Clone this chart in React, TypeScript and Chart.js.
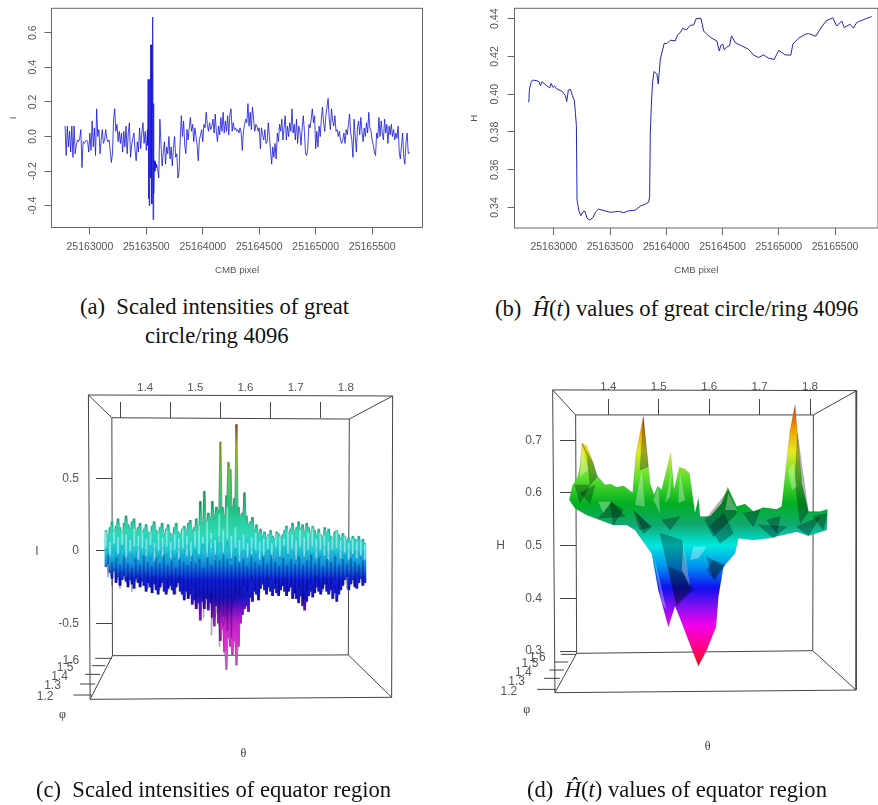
import React, { useEffect, useRef } from "react";
import { Chart, registerables } from "chart.js";

Chart.register(...registerables);

// ---------- panel (a): scaled intensities, ring 4096 ----------
const ringStart = 25162780;
const intensityBefore = [
  .06,-.11,.06,-.06,.03,-.09,.06,-.12,.06,-.10,
  -.05,-.02,-.03,-.01,.04,-.18,-.03,-.04,-.03,-.02,
  -.03,-.09,.02,-.08,.09,-.06,.05,-.11,.16,.0,
  .04,-.1,-.02,.04,-.04,-.02,.04,-.01,-.03,-.02,
  -.08,-.15,-.1,.1,.16,.03,.07,-.03,.03,-.04,
  .02,-.09,.03,-.06,.06,-.1,.02,.08,-.12,-.05,
  -.01,.02,-.08,-.14,-.03,-.09,.05,-.07,.02,.08,
  -.04,.03,-.08,.04,
];
const spikePixels = [25163512,25163516,25163519,25163523,25163526,25163530,25163534,25163537,25163541,25163545,25163549,25163553,25163556,25163560,25163563,25163567,25163571,25163576,25163581,25163586];
const spikeValues = [-.05,.33,-.36,.33,-.40,.33,-.22,.53,-.24,.53,-.39,.19,.69,-.48,.19,-.33,-.14,-.2,-.15,-.18];
const afterStart = 25163590;
const intensityAfter = [
  -.16,-.19,-.24,.1,-.05,-.17,-.09,-.03,-.16,-.06,
  -.1,.0,-.13,-.06,-.17,-.07,.0,-.12,-.1,-.24,
  -.2,-.02,.12,.0,.09,-.05,-.1,.04,-.02,.05,
  .11,.03,.07,-.03,.05,.0,-.05,-.14,-.02,.01,
  .04,-.03,.07,.05,.14,.07,.03,.08,.04,.06,
  .1,.02,.13,.03,-.03,.06,.01,.11,.03,.14,
  .02,.09,.03,.12,.01,.13,.16,.03,.08,.04,
  .05,.03,.04,.02,.05,.02,-.08,.03,.07,.1,
  .08,.19,.06,.14,.04,.17,.1,.03,.07,.06,
  .03,.05,-.07,.05,.01,-.02,.04,-.04,-.03,.08,
  .0,-.08,-.16,-.06,-.12,-.04,-.13,.02,-.03,.07,
  .03,.1,-.02,.05,.12,-.02,.06,.0,.08,.03,
  .16,.02,.07,-.02,.1,-.04,.06,.03,-.05,.05,
  .12,.03,-.1,-.11,-.07,.07,.05,.1,.16,.08,
  .12,-.07,.03,-.06,.06,.0,.1,.17,.08,.03,
  .12,.17,.22,.1,.04,.16,.09,.06,.12,.03,
  .04,.0,.03,-.02,-.04,-.02,.02,-.04,.04,.01,
  .07,.13,.02,-.02,-.12,.1,.0,-.09,.05,.09,
  .01,.11,.03,-.03,.05,.0,.08,.02,.14,.05,
  .03,-.02,-.05,-.09,-.11,.02,-.01,.11,.0,.09,
  .02,-.02,.1,.02,.07,-.04,.06,.01,.07,.0,
  .04,-.02,.02,-.01,.06,-.09,-.13,-.05,.02,-.12,
  -.16,-.03,.02,-.1,-.09,
];
const pixelTicks = [25163000,25163500,25164000,25164500,25165000,25165500];
const intensityTicks = [-.4,-.2,0,.2,.4,.6];

// ---------- panel (b): H(t), ring 4096 ----------
const hatBase = 25160000;
const hatPixels = [2778,2784,2799,2813,2852,2870,2882,2896,2926,2964,2976,2994,3006,3030,3074,3104,3115,3130,3148,3166,3183,3192,3201,3207,3222,3240,3260,3278,3296,3320,3349,3373,3397,3429,3503,3577,3621,3666,3725,3769,3814,3843,3852,3858,3870,3879,3891,3917,3929,3947,3982,4006,4036,4080,4101,4124,4145,4178,4213,4243,4266,4308,4332,4361,4406,4450,4471,4486,4503,4515,4539,4562,4580,4613,4672,4731,4775,4820,4864,4909,4959,4983,5000,5057,5107,5125,5175,5234,5264,5329,5367,5420,5480,5515,5560,5581,5634,5664,5687,5710,5738,5782,5826];
const hatValues = [.3957,.4027,.4063,.4075,.4071,.4066,.4045,.4066,.405,.4033,.4057,.4036,.4043,.4027,.4015,.3992,.3961,.4022,.4026,.3992,.3966,.3904,.3834,.3439,.3386,.3356,.3377,.3379,.3342,.3333,.3347,.3377,.3391,.3386,.3374,.3379,.3372,.3382,.3386,.3407,.3418,.3428,.3456,.379,.398,.4066,.412,.4107,.4054,.4186,.427,.4268,.4286,.4282,.4314,.4326,.4349,.434,.4365,.4367,.44,.4402,.4335,.4317,.4296,.4282,.4229,.4259,.4265,.4235,.4251,.4256,.4309,.4273,.4256,.4238,.4208,.4194,.4208,.4191,.4184,.4212,.4233,.4208,.4207,.4265,.4296,.4317,.4321,.4307,.4344,.4388,.4405,.4361,.4388,.4353,.437,.435,.4375,.4385,.4391,.4402,.4411];
const hatTicks = [.34,.36,.38,.40,.42,.44];

// ---------- panel (c): scaled intensities, equator surface ----------
const ribbonUpper = [
  .14,.1,.16,.2,.13,.17,.22,.16,.12,.19,
  .24,.18,.15,.2,.22,.13,.16,.19,.12,.15,
  .18,.13,.11,.17,.2,.14,.12,.16,.19,.11,
  .15,.18,.12,.1,.16,.19,.13,.11,.15,.17,
  .13,.19,.21,.14,.16,.22,.14,.34,.19,.41,
  .2,.26,.22,.34,.24,.3,.28,.75,.3,.24,
  .38,.61,.56,.3,.36,.87,.3,.24,.26,.4,
  .24,.18,.2,.23,.14,.18,.12,.15,.1,.13,
  .09,.11,.14,.1,.08,.13,.12,.09,.11,.14,
  .17,.12,.15,.19,.13,.16,.2,.15,.18,.13,
  .19,.16,.12,.17,.14,.1,.15,.11,.09,.16,
  .12,.15,.1,.08,.13,.14,.11,.08,.12,.1,
  .07,.09,.06,.1,.08,.07,.1,.06,.08,.05,
];
const ribbonLower = [
  -.11,-.09,-.15,-.19,-.14,-.22,-.18,-.24,-.2,-.17,
  -.21,-.25,-.2,-.23,-.26,-.19,-.22,-.25,-.21,-.24,
  -.28,-.22,-.25,-.29,-.23,-.27,-.3,-.25,-.22,-.28,
  -.3,-.26,-.24,-.27,-.3,-.25,-.22,-.28,-.3,-.34,
  -.28,-.33,-.3,-.37,-.34,-.4,-.36,-.48,-.35,-.4,
  -.33,-.41,-.36,-.46,-.52,-.38,-.5,-.62,-.54,-.7,
  -.82,-.6,-.66,-.72,-.62,-.79,-.66,-.5,-.44,-.4,
  -.38,-.42,-.32,-.35,-.28,-.3,-.34,-.26,-.23,-.27,
  -.3,-.25,-.28,-.31,-.26,-.29,-.31,-.27,-.24,-.28,
  -.31,-.28,-.25,-.33,-.29,-.33,-.36,-.31,-.38,-.41,
  -.35,-.31,-.28,-.32,-.29,-.25,-.28,-.3,-.26,-.23,
  -.28,-.3,-.27,-.33,-.29,-.35,-.3,-.27,-.24,-.2,
  -.18,-.27,-.23,-.2,-.25,-.26,-.22,-.19,-.24,-.22,
];
const lightHigh = [.13,.06,.16,.09,.19,.11,.07,.15,.1,.17,.08,.13,.05,.12,.09,.14,.06,.11,.08,.15,.1,.06,.13,.17,.09,.2,.12,.07,.25,.14,.3,.1,.16,.07,.11,.05,.09,.12,.06,.08,.1,.05,.12,.15,.08,.16,.11,.07,.14,.09,.12,.17,.08,.13,.1,.06,.11,.14,.07,.1,.05,.08,.06,.07,.04];
const lightLow = [.02,-.04,.05,-.02,.04,-.05,-.01,.03,-.06,.02,-.03,.04,-.07,.0,-.04,.03,-.05,.01,-.06,.02,-.03,-.07,.03,-.02,.05,-.04,.02,-.06,.06,-.03,.08,-.05,.02,-.07,.0,-.05,-.02,.01,-.06,-.03,.01,-.05,.02,-.04,.03,-.02,.01,-.06,.02,-.04,.0,.03,-.05,.01,-.03,-.06,.0,.02,-.05,-.01,-.06,-.02,-.05,-.03,-.06];
const darkHigh = [-.03,-.08,-.05,-.1,-.04,-.09,-.12,-.06,-.1,-.04,-.08,-.11,-.05,-.09,-.03,-.1,-.07,-.12,-.05,-.08,-.1,-.04,-.09,-.06,-.12,-.05,-.1,-.03,-.07,-.02,-.06,-.1,-.04,-.09,-.06,-.11,-.04,-.08,-.1,-.05,-.09,-.03,-.08,-.11,-.05,-.1,-.06,-.09,-.04,-.1,-.07,-.03,-.09,-.05,-.11,-.06,-.08,-.04,-.1,-.06,-.09,-.05,-.08,-.1,-.07];
const darkLow = [-.18,-.24,-.2,-.26,-.19,-.25,-.28,-.21,-.24,-.18,-.26,-.29,-.22,-.27,-.2,-.28,-.23,-.3,-.24,-.27,-.33,-.25,-.4,-.3,-.46,-.34,-.58,-.38,-.66,-.45,-.55,-.6,-.34,-.3,-.24,-.28,-.21,-.27,-.29,-.22,-.28,-.2,-.26,-.3,-.24,-.29,-.25,-.33,-.26,-.36,-.28,-.22,-.29,-.24,-.28,-.23,-.26,-.2,-.27,-.22,-.26,-.19,-.24,-.2,-.21];
const meshDarkHigh = [.03,-.05,.02,-.07,.04,-.06,.0,-.08,.03,-.05,.01,-.07,.02,-.06,.03,-.04,.0,-.07,.02,-.05,.04,-.06,.01,-.08,.05,-.04,.08,-.05,.1,-.03,.06,-.07,.02,-.05,.01,-.06,.02,-.04,.0,-.06,.01,-.05,.03,-.06,.04,-.04,.02,-.07,.03,-.05,.01,-.06,.02,-.05,.03,-.04,.01,-.06,.0,-.05,.01,-.04,.0,-.06,.0];
const meshDarkLow = [-.1,-.17,-.12,-.2,-.14,-.22,-.15,-.21,-.16,-.24,-.15,-.22,-.17,-.25,-.18,-.23,-.16,-.26,-.17,-.22,-.2,-.28,-.22,-.33,-.26,-.4,-.3,-.46,-.34,-.52,-.36,-.42,-.24,-.33,-.2,-.26,-.17,-.25,-.18,-.24,-.17,-.26,-.19,-.25,-.18,-.27,-.2,-.3,-.22,-.34,-.2,-.26,-.17,-.25,-.18,-.24,-.19,-.28,-.2,-.23,-.16,-.22,-.15,-.2,-.17];
const thetaTicks = [1.4,1.5,1.6,1.7,1.8];
const surfaceTicksC = [-.5,0,.5];
const frameC = [
  [1.287,1.074],[1.8934,1.067],[1.8914,-1.011],[1.2904,-1.025],[1.287,1.074],[null,null],
  [1.3337,.917],[1.807,.908],[1.805,-.719],[1.3349,-.724],[1.3337,.917],[null,null],
  [1.287,1.074],[1.3337,.917],[null,null],[1.8934,1.067],[1.807,.908],[null,null],
  [1.8914,-1.011],[1.805,-.719],[null,null],[1.2904,-1.025],[1.3349,-.724],[null,null],
  [1.3004,-.7425],[1.3336,-.7425],[null,null],[1.2938,-.793],[1.3203,-.793],[null,null],
  [1.2805,-.853],[1.3104,-.853],[null,null],[1.2705,-.9195],[1.3004,-.9195],[null,null],
  [1.2572,-.9954],[1.2938,-.9954],
];
const labelsC: [string, number, number][] = [
  ["1.6",1.2519,-.7586],["1.5",1.2406,-.8069],["1.4",1.2293,-.869],["1.3",1.2154,-.9333],["1.2",1.2008,-1.0069],["I",1.1842,-.007],
];
const serifLabelsC: [string, number, number][] = [["φ",1.2353,-1.1287],["θ",1.5959,-1.4023]];

// ---------- panel (d): H(t), equator surface ----------
const silhouetteD = [
  [1.3226,.5867],[1.3292,.6152],[1.3385,.6278],[1.3438,.65],[1.3478,.6943],[1.357,.6892],[1.3669,.6658],[1.3769,.6342],[1.3934,.6152],[1.4046,.6171],[1.4165,.6108],[1.4298,.6139],[1.4483,.6006],[1.4549,.6753],[1.4694,.7449],[1.476,.6816],[1.4827,.6184],[1.4906,.5962],[1.4979,.6133],[1.5058,.6057],[1.5237,.6753],[1.5303,.6057],[1.5409,.6487],[1.5521,.6449],[1.5607,.6373],[1.5673,.593],[1.572,.5614],[1.5786,.5899],[1.5819,.5551],[1.6017,.5551],[1.6249,.5804],[1.6368,.6108],[1.6546,.5741],[1.6712,.5791],[1.6877,.5646],[1.7075,.5722],[1.734,.569],[1.7439,.5741],[1.7525,.65],[1.7604,.7196],[1.7704,.7671],[1.775,.7133],[1.7836,.6184],[1.7968,.5646],[1.82,.5646],[1.8345,.569],
  [1.8332,.5297],[1.7968,.519],[1.7737,.5266],[1.7175,.5139],[1.6877,.5108],[1.6579,.5139],[1.6513,.4854],[1.6282,.4601],[1.6183,.4032],[1.6136,.3462],[1.5951,.3019],[1.5786,.2715],[1.5422,.362],[1.5323,.3854],[1.519,.3462],[1.4992,.4158],[1.486,.4854],[1.4694,.5076],[1.4529,.5297],[1.4364,.5392],[1.4099,.5392],[1.357,.5582],[1.3339,.5709],[1.3226,.5867],
];
const shadeFacets = [
  [[1.3478,.6943],[1.3702,.6563],[1.3782,.631],[1.3636,.6152],[1.3583,.669]],
  [[1.3339,.6152],[1.3636,.6152],[1.3438,.5804]],
  [[1.3802,.5519],[1.4066,.5835],[1.4331,.5551]],
  [[1.4694,.7449],[1.4793,.65],[1.4628,.6437]],
  [[1.5025,.5234],[1.5356,.3842],[1.562,.4158],[1.5455,.5108]],
  [[1.5951,.4538],[1.6116,.4348],[1.6315,.4633],[1.6083,.4728]],
  [[1.5918,.5487],[1.6381,.6057],[1.6546,.5614],[1.6083,.5171]],
  [[1.6976,.5392],[1.7274,.5139],[1.7538,.5361]],
  [[1.7737,.5361],[1.7968,.519],[1.82,.5551]],
  [[1.775,.7133],[1.7968,.5646],[1.7803,.5424],[1.7704,.6247]],
  [[1.4496,.5677],[1.4827,.5361],[1.4628,.5297]],
  [[1.3438,.5994],[1.3735,.6152],[1.3636,.5804]],
  [[1.4033,.5835],[1.4298,.5677],[1.4099,.5392]],
  [[1.4562,.5614],[1.486,.5361],[1.4694,.5234]],
  [[1.5058,.5487],[1.5422,.5551],[1.5224,.5297]],
  [[1.6017,.5361],[1.6282,.5614],[1.648,.5234],[1.6216,.5044]],
  [[1.6679,.5614],[1.7009,.5677],[1.6877,.5361]],
  [[1.7142,.5487],[1.7406,.5551],[1.734,.5234]],
  [[1.8067,.5551],[1.8332,.5614],[1.8266,.5297]],
  [[1.519,.4601],[1.5488,.4475],[1.5687,.4158],[1.5356,.3905]],
  [[1.5951,.4791],[1.6282,.4601],[1.6083,.438]],
];
const lightFacets = [
  [[1.3478,.6848],[1.3604,.6437],[1.3438,.631]],
  [[1.4661,.6437],[1.4727,.5741],[1.4529,.5772]],
  [[1.5257,.6437],[1.5224,.593],[1.5124,.5804]],
  [[1.5422,.6373],[1.5389,.5804],[1.5521,.5867]],
  [[1.5687,.4981],[1.5951,.4981],[1.5786,.476],[1.5621,.4728]],
  [[1.5488,.5044],[1.562,.4222],[1.5455,.4538]],
  [[1.4893,.4854],[1.5157,.3778],[1.5058,.3905]],
  [[1.7671,.6563],[1.7737,.612],[1.7638,.6057],[1.7571,.6437]],
  [[1.3802,.5835],[1.4066,.5835],[1.3901,.5614]],
  [[1.4893,.5867],[1.4992,.612],[1.5025,.5614]],
  [[1.6381,.5994],[1.6546,.5677],[1.6315,.5677]],
];
const surfaceTicksD = [.3,.4,.5,.6,.7];
const frameD = [
  [1.2896,.7956],[1.8927,.7943],[1.8914,.2259],[1.2942,.2209],[1.2896,.7956],[null,null],
  [1.3352,.7481],[1.8067,.7481],[1.8054,.3006],[1.3372,.2956],[1.3352,.7481],[null,null],
  [1.2896,.7956],[1.3352,.7481],[null,null],[1.8927,.7943],[1.8067,.7481],[null,null],
  [1.8914,.2259],[1.8054,.3006],[null,null],[1.2942,.2209],[1.3372,.2956],[null,null],
  [1.3061,.2937],[1.3358,.2937],[null,null],[1.2922,.2791],[1.3206,.2791],[null,null],
  [1.2829,.2639],[1.312,.2639],[null,null],[1.2724,.2481],[1.3041,.2481],[null,null],
  [1.2591,.2272],[1.2962,.2272],
];
const labelsD: [string, number, number][] = [
  ["1.6",1.2591,.288],["1.5",1.2446,.2753],["1.4",1.2313,.2589],["1.3",1.2181,.2418],["1.2",1.2029,.2228],["H",1.1864,.5],
];
const serifLabelsD: [string, number, number][] = [["φ",1.238,.188],["θ",1.5971,.1184]];

const ribbonStops: [number, string][] = [[.9,"#d0402a"],[.72,"#c8c82a"],[.55,"#6fd04a"],[.3,"#20c080"],[.12,"#30d8b8"],[0,"#20c8d8"],[-.1,"#1088e0"],[-.2,"#1020e0"],[-.32,"#1515c0"],[-.4,"#6a10c0"],[-.5,"#c020c8"],[-.65,"#e030d0"],[-.85,"#f0a0d8"]];
const heightStops: [number, string][] = [[.77,"#e02010"],[.72,"#f0a000"],[.68,"#e8e820"],[.63,"#60e030"],[.58,"#00b020"],[.54,"#10a870"],[.5,"#00e8e0"],[.46,"#0090f0"],[.42,"#1010f0"],[.385,"#8010f0"],[.35,"#f000f0"],[.31,"#ff0090"],[.27,"#f01010"]];

const SANS = "'Liberation Sans', Arial, sans-serif";
const INK = "#555";

const toPoints = (rows: (number | null)[][]) => rows.map(([x, y]) => ({ x, y }));
const gridOf = (n: number, a = 1.322, b = 1.838) => Array.from({ length: n }, (_, i) => a + (i * (b - a)) / (n - 1));

function heightGradient(chart: any, stops: [number, string][]) {
  const y = chart.scales.y;
  const hi = stops[0][0];
  const lo = stops[stops.length - 1][0];
  const p0 = y ? y.getPixelForValue(hi) : NaN;
  const p1 = y ? y.getPixelForValue(lo) : NaN;
  if (!Number.isFinite(p0) || !Number.isFinite(p1)) return "#888";
  const g = chart.ctx.createLinearGradient(0, p0, 0, p1);
  stops.forEach(([v, c]) => g.addColorStop((hi - v) / (hi - lo), c));
  return g;
}

const plotBox = {
  id: "plotBox",
  afterDraw(chart: any) {
    const { left, top, right, bottom } = chart.chartArea;
    const c = chart.ctx;
    c.save();
    c.strokeStyle = "#666";
    c.lineWidth = 1;
    c.strokeRect(left, top, right - left, bottom - top);
    c.restore();
  },
};

// lets the surface spread past the back wall of the box, as it does in the picture
const openArea = {
  id: "openArea",
  beforeDatasetsDraw(chart: any) {
    chart.$area = chart.chartArea;
    chart.chartArea = { ...chart.chartArea, left: 0, top: 0, right: chart.width, bottom: chart.height };
  },
  afterDatasetsDraw(chart: any) {
    chart.chartArea = chart.$area;
  },
};

const textMarks = (sans: [string, number, number][], serif: [string, number, number][]) => ({
  id: "textMarks",
  afterDraw(chart: any) {
    const c = chart.ctx;
    const { x, y } = chart.scales;
    c.save();
    c.textAlign = "center";
    c.textBaseline = "middle";
    c.fillStyle = INK;
    c.font = `12px ${SANS}`;
    sans.forEach(([t, a, b]) => c.fillText(t, x.getPixelForValue(a), y.getPixelForValue(b)));
    c.font = "12px 'Liberation Serif', serif";
    c.fillStyle = "#333";
    serif.forEach(([t, a, b]) => c.fillText(t, x.getPixelForValue(a), y.getPixelForValue(b)));
    c.restore();
  },
});

const ringOptions = (area: any, w: number, h: number, yMin: number, yMax: number, xMin: number, xMax: number, yTicks: number[], yTitle: string, yDigits: number, titlePad: number) => ({
  responsive: false,
  maintainAspectRatio: false,
  animation: false,
  layout: { padding: { top: area.top, right: w - area.right, left: 0, bottom: 0 } },
  plugins: { legend: { display: false }, tooltip: { enabled: false } },
  scales: {
    x: {
      type: "linear",
      min: xMin,
      max: xMax,
      afterFit: (s: any) => { s.height = h - area.bottom; },
      afterBuildTicks: (s: any) => { s.ticks = pixelTicks.map((value) => ({ value })); },
      border: { display: false },
      grid: { drawOnChartArea: false, tickLength: 7, color: "#666", tickColor: "#666" },
      ticks: { autoSkip: false, maxRotation: 0, minRotation: 0, padding: 6, color: INK, font: { family: SANS, size: 10.5 }, callback: (v: number) => String(v) },
      title: { display: true, text: "CMB pixel", color: INK, font: { family: SANS, size: 9.7 }, padding: { top: 0, bottom: 14 } },
    },
    y: {
      type: "linear",
      min: yMin,
      max: yMax,
      afterFit: (s: any) => { s.width = area.left; },
      afterBuildTicks: (s: any) => { s.ticks = yTicks.map((value) => ({ value })); },
      border: { display: false },
      grid: { drawOnChartArea: false, tickLength: 7, color: "#666", tickColor: "#666" },
      ticks: { autoSkip: false, minRotation: 90, maxRotation: 90, crossAlign: "center", padding: 2, color: INK, font: { family: SANS, size: 10.5 }, callback: (v: number) => v.toFixed(yDigits) },
      title: { display: true, text: yTitle, color: INK, font: { family: SANS, size: 9.7 }, padding: { top: titlePad, bottom: 0 } },
    },
  },
});

const surfaceOptions = (area: any, w: number, h: number, xMin: number, xMax: number, yMin: number, yMax: number, yTicks: number[], topPad: number, leftPad: number) => ({
  responsive: false,
  maintainAspectRatio: false,
  animation: false,
  layout: { padding: { top: 0, left: 0, right: w - area.right, bottom: h - area.bottom } },
  plugins: { legend: { display: false }, tooltip: { enabled: false } },
  scales: {
    x: {
      type: "linear",
      position: "top",
      bounds: "data",
      offset: false,
      afterDataLimits: (s: any) => { s.min = xMin; s.max = xMax; },
      afterFit: (s: any) => { s.height = area.top; },
      afterBuildTicks: (s: any) => { s.ticks = thetaTicks.map((value) => ({ value })); },
      border: { display: false },
      grid: { drawOnChartArea: false, tickLength: 16, color: "#444", tickColor: "#444" },
      ticks: { autoSkip: false, maxRotation: 0, minRotation: 0, padding: topPad, color: INK, font: { family: SANS, size: 11.5 }, callback: (v: number) => v.toFixed(1) },
    },
    y: {
      type: "linear",
      bounds: "data",
      afterDataLimits: (s: any) => { s.min = yMin; s.max = yMax; },
      afterFit: (s: any) => { s.width = area.left; },
      afterBuildTicks: (s: any) => { s.ticks = yTicks.map((value) => ({ value })); },
      border: { display: false },
      grid: { drawOnChartArea: false, tickLength: 16, color: "#444", tickColor: "#444" },
      ticks: { autoSkip: false, padding: leftPad, color: INK, font: { family: SANS, size: 12 }, callback: (v: number) => String(v) },
    },
  },
});

function buildA(canvas: HTMLCanvasElement) {
  const points = [
    ...intensityBefore.map((y, i) => ({ x: ringStart + i * 10, y })),
    ...spikePixels.map((x, i) => ({ x, y: spikeValues[i] })),
    ...intensityAfter.map((y, i) => ({ x: afterStart + i * 10, y })),
  ];
  return new Chart(canvas, {
    type: "line",
    data: { datasets: [{ data: points, borderColor: "rgb(20,20,215)", borderWidth: 0.8, pointRadius: 0, tension: 0 }] },
    options: ringOptions({ left: 51.5, top: 6.5, right: 422.5, bottom: 227.5 }, 440, 290, -.526, .741, 25162660, 25165946, intensityTicks, "I", 1, 8) as any,
    plugins: [plotBox],
  });
}

function buildB(canvas: HTMLCanvasElement) {
  const points = hatPixels.map((p, i) => ({ x: hatBase + p, y: hatValues[i] }));
  return new Chart(canvas, {
    type: "line",
    data: { datasets: [{ data: points, borderColor: "rgb(35,35,190)", borderWidth: 1, pointRadius: 0, tension: 0 }] },
    options: ringOptions({ left: 74.5, top: 7.5, right: 438, bottom: 228 }, 438, 290, .3291, .4455, 25162651, 25165882, hatTicks, "H", 2, 29) as any,
    plugins: [plotBox],
  });
}

const thinLine = (data: any[], color: string, width: number, order: number) => ({
  type: "line" as const,
  data,
  borderColor: color,
  borderWidth: width,
  pointRadius: 0,
  tension: 0,
  clip: false as any,
  order,
  spanGaps: false,
  fill: false,
});

const streakBars = (grid: number[], low: number[], high: number[], color: string, order: number) => ({
  type: "bar" as const,
  data: grid.map((x, i) => ({ x, y: [low[i], high[i]] })),
  backgroundColor: color,
  barThickness: 1,
  grouped: false,
  borderWidth: 0,
  clip: false as any,
  order,
});

function buildC(canvas: HTMLCanvasElement) {
  const ribbonGrid = gridOf(ribbonUpper.length);
  const meshGrid = gridOf(meshDarkHigh.length);
  const lightGrid = gridOf(lightHigh.length);
  const darkGrid = gridOf(darkHigh.length, 1.326, 1.834);
  const meshSet = (vals: number[]) => vals.map((y, i) => ({ x: meshGrid[i], y }));
  return new Chart(canvas, {
    type: "bar",
    data: {
      datasets: [
        thinLine(toPoints(frameC), "#444", 1, 9),
        {
          type: "bar",
          data: ribbonGrid.map((x, i) => ({ x, y: [ribbonLower[i], ribbonUpper[i]] })),
          backgroundColor: (ctx: any) => heightGradient(ctx.chart, ribbonStops),
          barThickness: 2.2,
          grouped: false,
          borderWidth: 0,
          clip: false,
          order: 8,
        },
        streakBars(lightGrid, lightLow, lightHigh, "rgba(225,255,250,.5)", 7),
        streakBars(darkGrid, darkLow, darkHigh, "rgba(0,0,60,.35)", 6),
        thinLine(meshSet(meshDarkHigh), "rgba(0,40,60,.3)", 0.5, 5),
        thinLine(meshSet(meshDarkLow), "rgba(0,0,50,.4)", 0.5, 4),
        thinLine(ribbonGrid.map((x, i) => ({ x, y: ribbonUpper[i] })), "rgba(0,50,40,.45)", 0.6, 3),
        thinLine(ribbonGrid.map((x, i) => ({ x, y: ribbonLower[i] })), "rgba(30,0,70,.4)", 0.6, 2),
      ] as any,
    },
    options: surfaceOptions({ left: 112, top: 48, right: 349, bottom: 285.5 }, 440, 410, 1.334, 1.8064, -.7228, .9152, surfaceTicksC, 7, 17) as any,
    plugins: [openArea, textMarks(labelsC, serifLabelsC)],
  });
}

function buildD(canvas: HTMLCanvasElement) {
  const facet = (rows: number[][], color: string, edge: string, order: number) => ({
    ...thinLine(toPoints([...rows, rows[0]]), edge, 0.5, order),
    backgroundColor: color,
    fill: "shape",
  });
  return new Chart(canvas, {
    type: "line",
    data: {
      datasets: [
        thinLine(toPoints(frameD), "#444", 1, 100),
        {
          ...thinLine(toPoints(silhouetteD), "rgba(0,60,30,.25)", 0.5, 90),
          backgroundColor: (ctx: any) => heightGradient(ctx.chart, heightStops),
          fill: "shape",
        },
        ...shadeFacets.map((f, i) => facet(f, "rgba(0,10,20,.3)", "rgba(0,0,0,.25)", 80 - i)),
        ...lightFacets.map((f, i) => facet(f, "rgba(255,255,255,.32)", "rgba(255,255,255,0)", 50 - i)),
      ] as any,
    },
    options: surfaceOptions({ left: 136, top: 45, right: 373.3, bottom: 282.7 }, 438, 410, 1.3359, 1.8065, .2968, .748, surfaceTicksD, 5, 18) as any,
    plugins: [openArea, textMarks(labelsD, serifLabelsD)],
  });
}

const captionStyle = (left: number, top: number): React.CSSProperties => ({
  position: "absolute",
  left,
  top,
  whiteSpace: "nowrap",
  fontFamily: "'Liberation Serif', 'Times New Roman', serif",
  fontSize: 22.6,
  lineHeight: "24px",
  color: "#111",
});

const canvasStyle = (left: number, top: number): React.CSSProperties => ({ position: "absolute", left, top, display: "block" });

export default function App() {
  const a = useRef<HTMLCanvasElement>(null);
  const b = useRef<HTMLCanvasElement>(null);
  const c = useRef<HTMLCanvasElement>(null);
  const d = useRef<HTMLCanvasElement>(null);
  useEffect(() => {
    const charts = [buildA(a.current!), buildB(b.current!), buildC(c.current!), buildD(d.current!)];
    return () => charts.forEach((ch) => ch.destroy());
  }, []);
  return (
    <div style={{ position: "absolute", left: 0, top: 0, width: 878, height: 805, overflow: "hidden", background: "#fff" }}>
      <canvas ref={a} width={440} height={290} style={canvasStyle(0, 0)} />
      <canvas ref={b} width={438} height={290} style={canvasStyle(440, 0)} />
      <canvas ref={c} width={440} height={410} style={canvasStyle(0, 370)} />
      <canvas ref={d} width={438} height={410} style={canvasStyle(440, 370)} />
      <div style={captionStyle(80, 295)}>(a)&nbsp; Scaled intensities of great</div>
      <div style={captionStyle(145, 324)}>circle/ring 4096</div>
      <div style={captionStyle(495, 297)}>(b)&nbsp; <i>Ĥ</i>(<i>t</i>) values of great circle/ring 4096</div>
      <div style={captionStyle(36, 778)}>(c)&nbsp; Scaled intensities of equator region</div>
      <div style={captionStyle(527, 778)}>(d)&nbsp; <i>Ĥ</i>(<i>t</i>) values of equator region</div>
    </div>
  );
}
